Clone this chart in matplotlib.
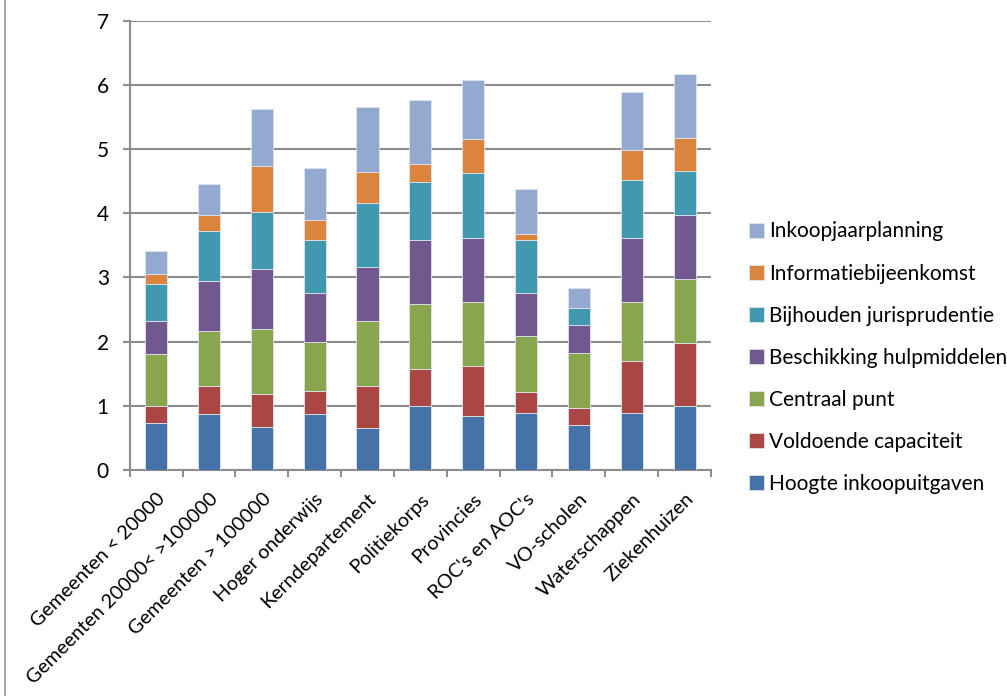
import numpy as np
import matplotlib.pyplot as plt
import matplotlib.transforms as mtransforms
from matplotlib.lines import Line2D

plt.rcParams['font.family'] = ['Lato', 'DejaVu Sans']

categories = ["Gemeenten < 20000", "Gemeenten 20000< >100000", "Gemeenten > 100000",
              "Hoger onderwijs", "Kerndepartement", "Politiekorps", "Provincies",
              "ROC's en AOC's", "VO-scholen", "Waterschappen", "Ziekenhuizen"]

# stacked from bottom to top
hoogte_inkoopuitgaven = [0.73, 0.88, 0.67, 0.88, 0.65, 1.00, 0.84, 0.89, 0.70, 0.89, 1.00]
voldoende_capaciteit = [0.27, 0.43, 0.52, 0.35, 0.66, 0.57, 0.78, 0.33, 0.27, 0.81, 0.98]
centraal_punt = [0.80, 0.85, 1.00, 0.77, 1.01, 1.02, 1.00, 0.86, 0.86, 0.92, 1.00]
beschikking_hulpmiddelen = [0.52, 0.78, 0.94, 0.75, 0.84, 1.00, 0.99, 0.67, 0.43, 0.99, 1.00]
bijhouden_jurisprudentie = [0.57, 0.78, 0.89, 0.84, 1.00, 0.89, 1.01, 0.84, 0.27, 0.91, 0.68]
informatiebijeenkomst = [0.16, 0.25, 0.71, 0.30, 0.49, 0.28, 0.54, 0.08, 0.00, 0.46, 0.51]
inkoopjaarplanning = [0.36, 0.49, 0.89, 0.82, 1.00, 1.00, 0.92, 0.71, 0.30, 0.91, 1.00]

series = [
    ("Hoogte inkoopuitgaven", hoogte_inkoopuitgaven, "#4572A7"),
    ("Voldoende capaciteit", voldoende_capaciteit, "#AA4643"),
    ("Centraal punt", centraal_punt, "#89A54E"),
    ("Beschikking hulpmiddelen", beschikking_hulpmiddelen, "#71588F"),
    ("Bijhouden jurisprudentie", bijhouden_jurisprudentie, "#4198AF"),
    ("Informatiebijeenkomst", informatiebijeenkomst, "#DB843D"),
    ("Inkoopjaarplanning", inkoopjaarplanning, "#93A9CF"),
]

fig = plt.figure(figsize=(10.07, 6.96), dpi=100)
ax = fig.add_axes([0.1288, 0.3247, 0.5773, 0.6456])

x = np.arange(len(categories))
bottom = np.zeros(len(categories))
for name, vals, col in series:
    ax.bar(x, vals, 0.42, bottom=bottom, color=col, label=name,
           edgecolor="#dde4ee", linewidth=0.6, zorder=3)
    bottom += np.array(vals)

grid = "#8c8c8c"
ax.set_xlim(-0.5, len(categories) - 0.5)
ax.set_ylim(0, 7)
ax.set_yticks(range(0, 8))
ax.yaxis.grid(True, color=grid, linewidth=1.5, zorder=0)
ax.set_axisbelow(True)
for s in ("top", "right"):
    ax.spines[s].set_visible(False)
for s in ("left", "bottom"):
    ax.spines[s].set_color(grid)
    ax.spines[s].set_linewidth(1.5)

ax.tick_params(axis="y", length=5, width=1.5, color=grid, pad=10, labelsize=15)
ax.set_xticks(x)
ax.set_xticklabels(categories, rotation=45, ha="right", va="center",
                   rotation_mode="anchor", fontsize=14.3)
ax.tick_params(axis="x", which="major", length=0, pad=19)
shift = mtransforms.ScaledTranslation(6 / 100, 0, fig.dpi_scale_trans)
for lab in ax.get_xticklabels():
    lab.set_transform(lab.get_transform() + shift)
ax.set_xticks(np.arange(-0.5, len(categories)), minor=True)
ax.tick_params(axis="x", which="minor", length=5, width=1.5, color=grid)

handles, labels = ax.get_legend_handles_labels()
leg = fig.legend(handles[::-1], labels[::-1], loc="center left",
                 bbox_to_anchor=(0.736, 0.486), frameon=False, fontsize=15,
                 handlelength=0.72, handleheight=0.72, handletextpad=0.22,
                 labelspacing=1.06, borderaxespad=0)

fig.add_artist(Line2D([5 / 1007, 5 / 1007], [0, 1], color="#a6a6a6", linewidth=1.5))

fig.savefig("out.png", dpi=100)
